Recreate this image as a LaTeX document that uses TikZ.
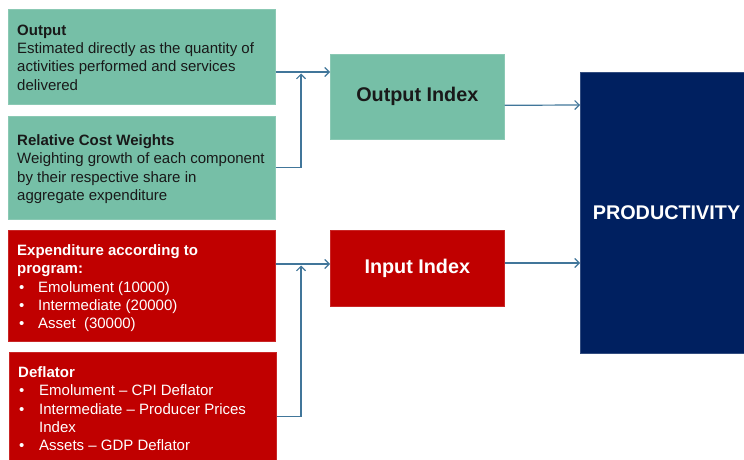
\documentclass[tikz,border=0pt]{standalone}
\usepackage{fontspec}
\setmainfont{Liberation Sans}
\usetikzlibrary{arrows.meta}
\definecolor{gfill}{HTML}{76BFA7}
\definecolor{rfill}{HTML}{C00000}
\definecolor{nfill}{HTML}{002060}
\definecolor{arrc}{HTML}{41769A}
\begin{document}
\begin{tikzpicture}[x=1pt,y=-1pt,
  gbox/.style={draw=gfill!85!white,line width=0.6pt,fill=gfill,inner sep=0pt,anchor=north west},
  rbox/.style={draw=rfill!85!white,line width=0.6pt,fill=rfill,inner sep=0pt,anchor=north west},
  nbox/.style={draw=nfill!80!white,line width=0.6pt,fill=nfill,inner sep=0pt,anchor=north west},
  txt/.style={inner sep=0pt,anchor=north west,align=left,font=\fontsize{15}{18.3}\selectfont},
  bigtxt/.style={font=\fontsize{19.8}{22}\selectfont\bfseries},
  arr/.style={draw=arrc,line width=1.2pt,-{Straight Barb[length=4.5pt,width=9pt,line width=1.1pt]}},
  ln/.style={draw=arrc,line width=1.2pt}]
\useasboundingbox (0,0) rectangle (744,460);
% left boxes
\node[gbox,minimum width=267pt,minimum height=95pt] (outbox) at (8,9) {};
\node[gbox,minimum width=267pt,minimum height=103pt] (rcw) at (8,116) {};
\node[rbox,minimum width=267pt,minimum height=111pt] (exp) at (8,230) {};
\node[rbox,minimum width=267pt,minimum height=108pt] (defl) at (9,352) {};
% texts
\node[txt,text=black!90] (outtxt) at (17,24.5) {\textbf{Output}\\Estimated directly as the quantity of\\activities performed and services\\delivered};
\node[txt,text=black!90] (rcwtxt) at (17,134.5) {\textbf{Relative Cost Weights}\\Weighting growth of each component\\by their respective share in\\aggregate expenditure};
\node[txt,text=white] (exptxt) at (17,244.5) {\textbf{Expenditure according to}\\\textbf{program:}\\\makebox[21pt][l]{\hspace{2pt}•}Emolument (10000)\\\makebox[21pt][l]{\hspace{2pt}•}Intermediate (20000)\\\makebox[21pt][l]{\hspace{2pt}•}Asset\ \ (30000)};
\node[txt,text=white] (defltxt) at (18,366.5) {\textbf{Deflator}\\\makebox[21pt][l]{\hspace{1pt}•}Emolument -- CPI Deflator\\\makebox[21pt][l]{\hspace{1pt}•}Intermediate -- Producer Prices\\\hspace*{21pt}Index\\\makebox[21pt][l]{\hspace{1pt}•}Assets -- GDP Deflator};
% index boxes
\node[gbox,minimum width=174pt,minimum height=85pt] (oidx) at (330,54) {};
\node[bigtxt,text=black!90] (oidxtxt) at (oidx.center) {Output Index};
\node[rbox,minimum width=174pt,minimum height=76pt] (iidx) at (330,230) {};
\node[bigtxt,text=white] (iidxtxt) at (iidx.center) {Input Index};
% productivity
\node[nbox,minimum width=173pt,minimum height=281pt] (prod) at (580,72) {};
\node[bigtxt,text=white] (prodtxt) at (666.5,213) {PRODUCTIVITY};
% junctions
\coordinate (jA) at (301,72);
\coordinate (jB) at (301,264);
% connectors
\draw[arr] (outbox.east |- jA) -- (oidx.west |- jA);
\draw[arr,shorten >=1.5pt] (rcw.east) -| (jA);
\draw[arr] (exp.east |- jB) -- (iidx.west |- jB);
\draw[arr,shorten >=1.5pt] ([yshift=-10.5pt]defl.east) -| (jB);
\draw[arr] ([yshift=-8.5pt]oidx.east) -- (prod.west |- 0,105);
\draw[arr] (iidx.east |- 0,263) -- (prod.west |- 0,263);
\end{tikzpicture}
\end{document}
